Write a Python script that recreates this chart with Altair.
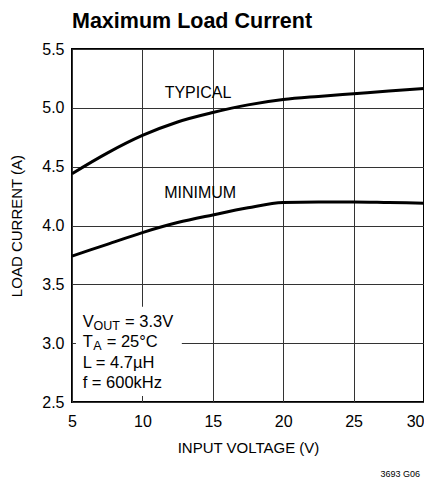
import altair as alt
import pandas as pd

# ---- data ----
vin = [5, 7.5, 10, 12.5, 15, 17.5, 20, 22.5, 25, 27.5, 30]
typical = [4.44, 4.615, 4.765, 4.88, 4.96, 5.025, 5.07, 5.097, 5.12, 5.143, 5.165]
minimum = [3.74, 3.84, 3.94, 4.025, 4.09, 4.15, 4.195, 4.20, 4.20, 4.195, 4.19]
x_ticks = [5, 10, 15, 20, 25, 30]
y_ticks = [2.5, 3.0, 3.5, 4.0, 4.5, 5.0, 5.5]
curve_names = ["TYPICAL", "MINIMUM"]
curve_label_x = [13.95, 14.1]
curve_label_y = [5.126, 4.278]

FONT = "Liberation Sans"

df = pd.DataFrame({
    "vin": vin * 2,
    "current": typical + minimum,
    "curve": ["TYPICAL"] * len(vin) + ["MINIMUM"] * len(vin),
})
labels_df = pd.DataFrame({"x": curve_label_x, "y": curve_label_y, "t": curve_names})
box_df = pd.DataFrame({"x": [5.28], "x2": [12.8], "y": [2.55], "y2": [3.31]})

xscale = alt.Scale(domain=[5, 30], nice=False)
yscale = alt.Scale(domain=[2.5, 5.5], nice=False)

xaxis = alt.Axis(values=x_ticks, grid=True, gridColor="#333", gridWidth=1,
                 domain=False, ticks=False, labelFont=FONT, labelFontSize=16,
                 labelColor="black", labelPadding=11, labelFlush=False,
                 labelAlign=alt.ExprRef("datum.value == 30 ? 'right' : 'center'"),
                 title="INPUT VOLTAGE (V)", titleFont=FONT, titleFontSize=15,
                 titleFontWeight="normal", titleColor="black", titlePadding=11)
yaxis = alt.Axis(values=y_ticks, grid=True, gridColor="#333", gridWidth=1,
                 domain=False, ticks=False, labelFont=FONT, labelFontSize=16,
                 labelColor="black", labelPadding=8, format=".1f",
                 title="LOAD CURRENT (A)", titleFont=FONT, titleFontSize=15,
                 titleFontWeight="normal", titleColor="black", titlePadding=17)

lines = alt.Chart(df).mark_line(color="black", strokeWidth=3, interpolate="monotone").encode(
    x=alt.X("vin:Q", scale=xscale, axis=xaxis),
    y=alt.Y("current:Q", scale=yscale, axis=yaxis),
    detail="curve:N",
)

curve_text = alt.Chart(labels_df).mark_text(font=FONT, fontSize=16, color="black").encode(
    x=alt.X("x:Q", scale=xscale), y=alt.Y("y:Q", scale=yscale), text="t:N"
)

box = alt.Chart(box_df).mark_rect(color="white").encode(
    x=alt.X("x:Q", scale=xscale), x2="x2", y=alt.Y("y:Q", scale=yscale), y2="y2"
)


def note(text, px, py, size=16.5):
    return alt.Chart(pd.DataFrame({"t": [text]})).mark_text(
        font=FONT, fontSize=size, color="black", align="left", baseline="alphabetic"
    ).encode(x=alt.value(px), y=alt.value(py), text="t:N")


notes = [
    note("V", 10.7, 277.7), note("OUT", 21.6, 280.7, 12.5), note("= 3.3V", 53, 277.7),
    note("T", 10.7, 298.2), note("A", 21.3, 301.2, 12.5), note("= 25°C", 34.7, 298.2),
    note("L = 4.7µH", 10.7, 318.7),
    note("f = 600kHz", 10.7, 339.2),
]

footer = alt.Chart(pd.DataFrame({"t": ["3693 G06"]})).mark_text(
    font=FONT, fontSize=9, color="black", align="right", baseline="middle"
).encode(x=alt.value(348), y=alt.value(424.5), text="t:N")

chart = alt.layer(lines, box, curve_text, *notes, footer).properties(
    width=352, height=353,
    title=alt.Title("Maximum Load Current", anchor="start", frame="group", font=FONT,
                    fontSize=21.5, fontWeight="bold", color="black", offset=9),
    autosize=alt.AutoSizeParams(type="none"),
    padding={"left": 64, "top": 41, "right": 0, "bottom": 76},
).configure_view(stroke="black", strokeWidth=2)

chart.save("out.html", embed_options={"renderer": "svg", "actions": False})
